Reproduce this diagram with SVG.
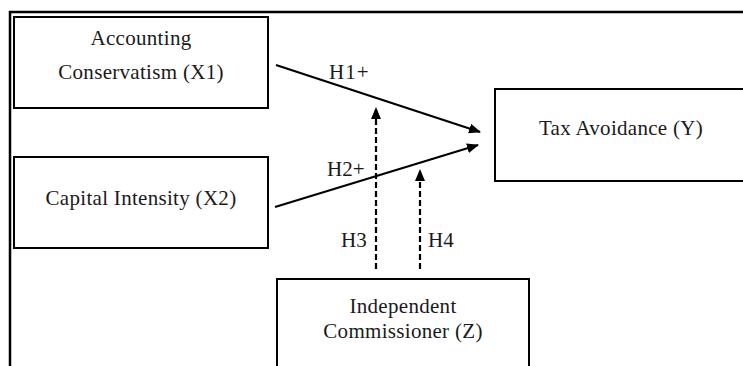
<svg xmlns="http://www.w3.org/2000/svg" width="743" height="366" viewBox="0 0 743 366">
<style>
.box{fill:#fff;stroke:#000;stroke-width:2}
text{font-family:'Liberation Serif','Times New Roman',Times,'DejaVu Serif',serif;font-size:21px;fill:#1a1a1a}
.t{letter-spacing:0.3px;text-anchor:middle}
.solid{stroke:#000;stroke-width:2.2;fill:none}
.dash{stroke:#000;stroke-width:2.2;fill:none;stroke-dasharray:6 3}
</style>
<defs>
<marker id="ah" viewBox="0 0 12 10" refX="11" refY="5" markerWidth="12" markerHeight="10" markerUnits="userSpaceOnUse" orient="auto">
<path d="M0,0 L12,5 L0,10 Z" fill="#000"/>
</marker>
</defs>
<rect width="743" height="366" fill="#fff"/>
<g id="frame">
<path d="M10,366 V12 H743" fill="none" stroke="#000" stroke-width="2.5"/>
</g>
<g id="x1">
<rect class="box" x="14" y="17" width="254" height="91"/>
<text class="t" x="141" y="45" font-family="Liberation Serif, serif">Accounting</text>
<text class="t" x="141" y="79" font-family="Liberation Serif, serif">Conservatism (X1)</text>
</g>
<g id="x2">
<rect class="box" x="14" y="157" width="254" height="91"/>
<text class="t" x="141" y="205" font-family="Liberation Serif, serif">Capital Intensity (X2)</text>
</g>
<g id="y">
<rect class="box" x="495" y="89" width="260" height="92"/>
<text class="t" x="621" y="135" font-family="Liberation Serif, serif">Tax Avoidance (Y)</text>
</g>
<g id="z">
<rect class="box" x="277" y="279" width="252" height="100"/>
<text class="t" x="403" y="313" font-family="Liberation Serif, serif">Independent</text>
<text class="t" x="403" y="338" font-family="Liberation Serif, serif">Commissioner (Z)</text>
</g>
<g id="connectors">
<line class="solid" x1="276" y1="65" x2="480" y2="132" marker-end="url(#ah)"/>
<line class="solid" x1="275" y1="207" x2="478" y2="145" marker-end="url(#ah)"/>
<line class="dash" x1="376" y1="269" x2="376" y2="108" marker-end="url(#ah)"/>
<line class="dash" x1="420" y1="269" x2="420" y2="170" marker-end="url(#ah)"/>
<text x="329" y="79" letter-spacing="1" font-family="Liberation Serif, serif">H1+</text>
<text x="327" y="176" font-family="Liberation Serif, serif">H2+</text>
<text x="341" y="247" font-family="Liberation Serif, serif">H3</text>
<text x="428" y="247" font-family="Liberation Serif, serif">H4</text>
</g>
</svg>
